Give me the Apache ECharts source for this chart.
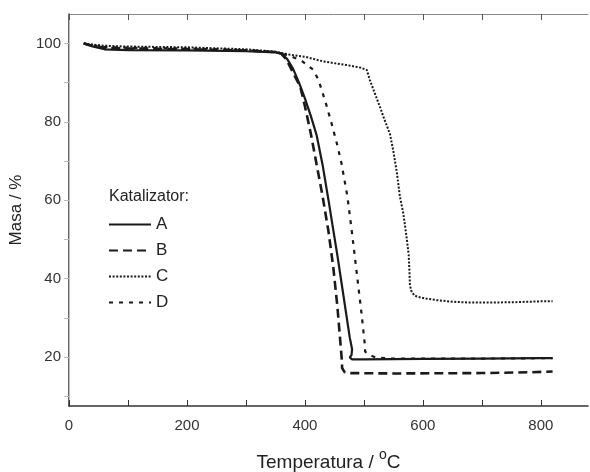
<!DOCTYPE html>
<html>
<head>
<meta charset="utf-8">
<script src="https://cdn.jsdelivr.net/npm/echarts@6/dist/echarts.min.js"></script>
<style>html,body{margin:0;padding:0;background:#fff;}</style>
</head>
<body>
<div id="main" style="width:590px;height:472px;"></div>
<script>
// punkty krzywych TG: [temperatura, masa %]
var seriesA = [[25,100],[40,99.2],[60,98.5],[100,98.3],[200,98.2],[300,98],[350,97.7],[360,97.4],[370,96],[380,93.5],[390,90],[400,86],[410,81.5],[420,76.5],[430,69],[440,60],[448,52.5],[455,46],[462,39],[470,31],[476,25],[480,22],[479,20.5],[476,19.9],[480,19.4],[500,19.4],[600,19.5],[700,19.6],[800,19.7],[820,19.7]];
var seriesB = [[25,100],[40,99.4],[60,98.9],[100,98.7],[200,98.5],[300,98.2],[350,97.8],[360,97.4],[368,96],[375,94],[385,91],[392,89],[400,84],[410,77],[420,69],[430,61],[440,52],[448,43],[455,33],[460,24],[463,18.5],[463,17.2],[467,16.2],[475,15.9],[550,15.8],[700,15.9],[780,16.1],[820,16.3]];
var seriesC = [[25,100],[40,99.7],[60,99.4],[100,99.2],[200,99],[300,98.5],[350,97.9],[375,97.1],[400,96.6],[431,95.4],[470,94.5],[495,93.8],[505,93.2],[510,90.7],[518,87.5],[527,83.9],[535,80.5],[544,77],[550,72.5],[556,67],[561,61],[567,56.5],[572,51],[576,46],[577.5,41],[578,38.5],[580,37],[585,35.8],[590,35.4],[605,34.9],[624,34.5],[650,34.1],[680,33.9],[720,33.9],[760,34],[800,34.2],[820,34.2]];
var seriesD = [[25,100],[40,99.5],[60,99.1],[100,98.9],[200,98.7],[300,98.3],[350,97.8],[375,96.8],[395,95.5],[414,93.3],[423,90.7],[435,85],[445,79.7],[455,74],[462,69.4],[472,61],[480,51.5],[488,41.3],[496,31.1],[502,22.6],[502,21.4],[508,20.6],[520,19.9],[550,19.6],[700,19.6],[820,19.7]];
var xTicks = [0,100,200,300,400,500,600,700,800];
var xLabels = [0,200,400,600,800];
var yTicks = [10,20,30,40,50,60,70,80,90,100];
var yLabels = [20,40,60,80,100];

var myChart = echarts.init(document.getElementById('main'));
var ink = '#1a1a1a';
var option = {
    animation: false,
    title: {
        text: 'Katalizator:',
        left: 104, top: 184,
        textStyle: {fontFamily: 'Liberation Sans', fontSize: 16, fontWeight: 'normal', color: '#222'}
    },
    legend: {
        orient: 'vertical',
        left: 103, top: 211,
        itemWidth: 42, itemHeight: 14, itemGap: 9,
        itemStyle: {opacity: 0},
        textStyle: {fontFamily: 'Liberation Sans', fontSize: 17, color: '#222'},
        data: ['A', 'B', 'C', 'D']
    },
    grid: {left: 69, right: 2, top: 14, bottom: 66, outerBoundsMode: 'none', containLabel: false},
    xAxis: [{
        type: 'value', min: 0, max: 880,
        name: '{t|Temperatura / }{s|o}{t|C}',
        nameLocation: 'middle', nameGap: 42,
        nameTextStyle: {
            fontFamily: 'Liberation Sans', fontSize: 19, color: '#222',
            rich: {
                t: {fontFamily: 'Liberation Sans', fontSize: 19, color: '#222', verticalAlign: 'bottom', lineHeight: 24},
                s: {fontFamily: 'Liberation Sans', fontSize: 14, color: '#222', verticalAlign: 'top', lineHeight: 24}
            }
        },
        axisLine: {lineStyle: {color: '#333', width: 1.5}},
        axisTick: {inside: true, length: 6, customValues: xTicks, lineStyle: {color: '#333'}},
        axisLabel: {customValues: xLabels, fontFamily: 'Liberation Sans', fontSize: 15, color: '#333', margin: 12},
        splitLine: {show: false}
    }, {
        type: 'value', min: 0, max: 880, position: 'top',
        axisLine: {show: true, lineStyle: {color: '#888', width: 1}},
        axisTick: {inside: true, length: 6, customValues: xTicks, lineStyle: {color: '#555'}},
        axisLabel: {show: false},
        splitLine: {show: false}
    }],
    yAxis: [{
        type: 'value', min: 7.5, max: 107.5,
        name: 'Masa / %',
        nameLocation: 'middle', nameGap: 37,
        nameTextStyle: {fontFamily: 'Liberation Sans', fontSize: 17, color: '#222'},
        axisLine: {show: true, lineStyle: {color: '#333', width: 1.5}},
        axisTick: {inside: false, length: 5, customValues: yTicks, lineStyle: {color: '#333'}},
        axisLabel: {customValues: yLabels, fontFamily: 'Liberation Sans', fontSize: 15, color: '#333', margin: 8},
        splitLine: {show: false}
    }, {
        type: 'value', min: 7.5, max: 107.5, position: 'right',
        axisLine: {show: true, lineStyle: {color: '#bbb', width: 1}},
        axisTick: {inside: true, length: 5, customValues: yTicks, lineStyle: {color: '#bbb'}},
        axisLabel: {show: false},
        splitLine: {show: false}
    }],
    series: [
        {name: 'A', type: 'line', data: seriesA, showSymbol: false, symbol: 'none',
         lineStyle: {color: ink, width: 2.2, type: 'solid'}, itemStyle: {color: ink}},
        {name: 'B', type: 'line', data: seriesB, showSymbol: false, symbol: 'none',
         lineStyle: {color: ink, width: 2.6, type: [9, 5]}, itemStyle: {color: ink}},
        {name: 'C', type: 'line', data: seriesC, showSymbol: false, symbol: 'none',
         lineStyle: {color: ink, width: 2, type: [2, 1.6]}, itemStyle: {color: ink}},
        {name: 'D', type: 'line', data: seriesD, showSymbol: false, symbol: 'none',
         lineStyle: {color: ink, width: 2.2, type: [4, 6]}, itemStyle: {color: ink}}
    ]
};
myChart.setOption(option);
</script>
</body>
</html>
